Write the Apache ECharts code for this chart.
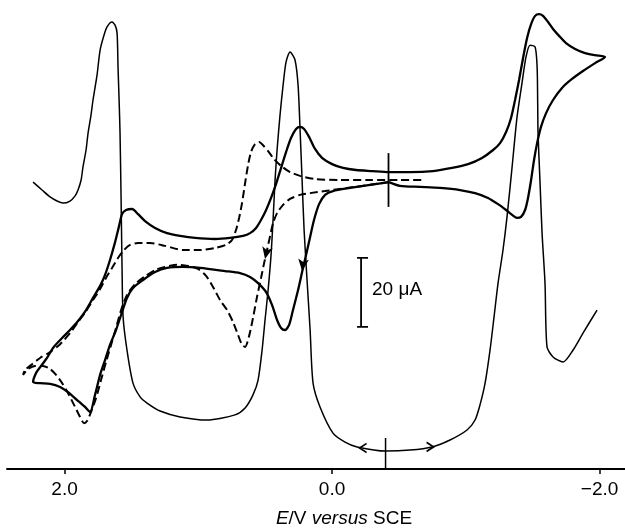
<!DOCTYPE html>
<html><head><meta charset="utf-8">
<script src="https://cdn.jsdelivr.net/npm/echarts@6/dist/echarts.min.js"></script>
<style>html,body{margin:0;padding:0;background:#fff}#c{width:625px;height:529px}</style>
</head><body><div id="c"></div>
<script>
// x: potential E / V versus SCE ; y: current / µA (arbitrary zero)
const tickValues = [2, 0, -2];
const tickLabels = ['2.0', '0.0', '\u22122.0'];

const thinCurve = [
[2.235,-0.6],[2.168,-2.9],[2.108,-4.9],[2.056,-6.1],[2.011,-6.7],[1.959,-6.1],[1.921,-4.6],[1.899,-2.9],[1.876,0],[1.862,3.8],[1.839,8.7],[1.824,13.6],[1.802,18.8],[1.787,23.2],[1.757,30.4],[1.734,37.7],[1.705,42.0],[1.682,44.4],[1.645,45.8],[1.622,44.9],[1.607,42.6],[1.600,32.8],[1.592,23.2],[1.585,13.6],[1.577,-5.8],[1.570,-25.2],[1.562,-39.7],[1.533,-49.3],[1.488,-58.9],[1.435,-62.9],[1.383,-64.7],[1.286,-67.0],[1.136,-68.7],[0.935,-69.6],[0.725,-68.1],[0.650,-66.1],[0.591,-62.3],[0.553,-58.0],[0.523,-49.3],[0.501,-40.6],[0.478,-31.9],[0.456,-21.7],[0.441,-11.6],[0.426,0],[0.411,8.7],[0.389,18.8],[0.366,27.5],[0.344,34.2],[0.314,37.1],[0.277,34.8],[0.254,27.5],[0.239,14.5],[0.224,0],[0.209,-14.5],[0.187,-29.0],[0.164,-43.5],[0.142,-58.9],[0.090,-65.8],[-0.007,-73.4],[-0.097,-76.0],[-0.187,-77.4],[-0.404,-78.6],[-0.583,-78.3],[-0.748,-77.4],[-0.882,-75.4],[-1.009,-72.5],[-1.069,-69.6],[-1.106,-65.2],[-1.144,-58.9],[-1.181,-49.3],[-1.211,-39.7],[-1.241,-29.9],[-1.278,-20.3],[-1.308,-10.7],[-1.346,3.8],[-1.383,18.3],[-1.420,28.1],[-1.450,35.7],[-1.480,39.1],[-1.518,38.6],[-1.533,32.8],[-1.537,23.2],[-1.540,13.6],[-1.555,-0.9],[-1.570,-15.4],[-1.592,-29.9],[-1.607,-48.4],[-1.652,-51.3],[-1.727,-52.8],[-1.802,-49.3],[-1.876,-44.4],[-1.981,-37.7]
];

const solidCurve = [
[-0.426,-0.6],[-0.284,-1.4],[-0.135,-2.3],[-0.007,-3.2],[0.052,-4.3],[0.097,-7.0],[0.135,-11.6],[0.164,-16.5],[0.194,-21.7],[0.224,-26.7],[0.254,-31.9],[0.292,-37.7],[0.321,-42.0],[0.351,-43.5],[0.381,-42.9],[0.411,-40.6],[0.449,-36.2],[0.493,-32.5],[0.553,-29.9],[0.613,-28.1],[0.688,-27.0],[0.800,-26.4],[0.987,-25.5],[1.114,-25.2],[1.234,-25.5],[1.323,-26.7],[1.413,-29.0],[1.488,-31.3],[1.533,-34.2],[1.570,-38.3],[1.615,-43.5],[1.660,-47.8],[1.697,-52.2],[1.734,-56.5],[1.772,-62.3],[1.809,-67.3],[1.847,-65.8],[1.906,-63.8],[1.974,-61.5],[2.033,-60.0],[2.108,-59.1],[2.183,-58.9],[2.235,-58.6],[2.213,-56.0],[2.175,-53.9],[2.131,-51.6],[2.086,-48.7],[2.018,-45.8],[1.959,-43.5],[1.899,-40.9],[1.839,-37.7],[1.787,-34.2],[1.734,-30.7],[1.697,-27.5],[1.660,-23.2],[1.622,-18.0],[1.592,-13.3],[1.570,-9.9],[1.540,-8.7],[1.495,-8.4],[1.450,-9.9],[1.398,-11.9],[1.323,-13.9],[1.234,-15.4],[1.136,-16.2],[1.024,-16.8],[0.875,-17.1],[0.763,-16.8],[0.665,-16.2],[0.613,-15.4],[0.568,-13.9],[0.531,-11.6],[0.493,-8.7],[0.456,-5.2],[0.419,-1.2],[0.381,3.5],[0.344,8.1],[0.307,12.2],[0.269,14.8],[0.239,15.4],[0.209,14.8],[0.172,12.5],[0.127,9.0],[0.075,6.4],[0,4.6],[-0.082,3.5],[-0.179,2.9],[-0.299,2.6],[-0.426,2.3],[-0.583,2.3],[-0.755,2.6],[-0.897,3.5],[-1.017,4.6],[-1.121,6.4],[-1.204,8.7],[-1.256,10.7],[-1.301,13.9],[-1.338,18.0],[-1.368,23.2],[-1.398,29.0],[-1.428,35.4],[-1.458,41.2],[-1.488,45.2],[-1.518,47.6],[-1.548,48.1],[-1.577,47.6],[-1.615,45.8],[-1.652,43.8],[-1.697,41.8],[-1.749,39.7],[-1.817,38.0],[-1.891,36.8],[-1.966,36.2],[-2.041,35.7],[-1.966,33.9],[-1.876,31.6],[-1.794,29.3],[-1.719,26.7],[-1.652,23.2],[-1.600,19.4],[-1.562,15.4],[-1.533,10.7],[-1.510,5.8],[-1.488,0],[-1.465,-5.2],[-1.443,-8.7],[-1.413,-10.7],[-1.383,-11.0],[-1.346,-10.1],[-1.301,-8.7],[-1.241,-7.0],[-1.166,-5.2],[-1.069,-3.8],[-0.957,-2.9],[-0.807,-2.3],[-0.658,-2.0],[-0.508,-1.7],[-0.426,-0.6]
];

const dashedCurve = [
[-0.426,-0.6],[-0.284,-1.4],[-0.112,-2.3],[0.052,-3.2],[0.164,-3.8],[0.239,-4.3],[0.314,-5.5],[0.366,-7.2],[0.411,-9.6],[0.441,-12.5],[0.463,-16.2],[0.486,-20.3],[0.508,-24.1],[0.531,-28.4],[0.561,-33.9],[0.591,-40.0],[0.620,-45.2],[0.650,-48.4],[0.673,-47.8],[0.703,-44.9],[0.740,-41.2],[0.785,-37.7],[0.837,-34.8],[0.890,-31.0],[0.942,-27.8],[1.002,-25.8],[1.077,-24.9],[1.159,-24.6],[1.248,-25.2],[1.323,-26.1],[1.405,-28.1],[1.473,-30.2],[1.533,-33.3],[1.577,-37.7],[1.615,-42.9],[1.652,-47.8],[1.690,-52.8],[1.727,-58.0],[1.764,-63.2],[1.802,-67.3],[1.832,-69.9],[1.854,-70.5],[1.884,-68.7],[1.929,-65.2],[1.974,-61.8],[2.018,-58.9],[2.063,-56.5],[2.108,-54.8],[2.161,-53.9],[2.220,-53.9],[2.273,-54.8],[2.310,-56.5],[2.295,-55.1],[2.243,-53.4],[2.183,-51.6],[2.108,-49.9],[2.033,-47.6],[1.959,-44.4],[1.899,-41.2],[1.839,-38.0],[1.787,-34.8],[1.734,-31.6],[1.690,-28.4],[1.645,-25.5],[1.600,-22.6],[1.555,-20.3],[1.510,-18.8],[1.450,-18.3],[1.361,-18.3],[1.248,-19.1],[1.114,-20.3],[0.987,-20.3],[0.875,-19.7],[0.792,-18.8],[0.748,-17.4],[0.718,-14.5],[0.695,-11.0],[0.673,-6.7],[0.650,-0.9],[0.628,4.3],[0.606,8.1],[0.576,10.4],[0.546,11.0],[0.516,10.1],[0.478,8.4],[0.434,6.1],[0.381,4.1],[0.314,2.3],[0.239,1.2],[0.127,0.3],[-0.060,0],[-0.284,0],[-0.508,0],[-0.680,0]
];

const startMarker = [[-0.422, 7.8], [-0.422, -7.8]];
const bottomMarker = [[-0.400, -74.8], [-0.400, -83.8]];
const scaleBar = [[-0.187,-22.6],[-0.269,-22.6],[-0.217,-22.6],[-0.217,-42.6],[-0.269,-42.6],[-0.187,-42.6]];
const scaleLabelAt = [[-0.299, -31.9]];
const scaleLabel = '20 \u03bcA';
const dirArrows = [[0.501, -22.9], [0.224, -26.4]];
const dirAngles = [168, 173];
const scanArrowLeft = [[-0.232, -77.7]];
const scanArrowRight = [[-0.733, -77.4]];

const FONT = 'Liberation Sans, Arial, Helvetica, sans-serif';
const chart = echarts.init(document.getElementById('c'), null, {renderer: 'canvas'});
const lineBase = {type: 'line', symbol: 'none', silent: true, smooth: 0.25, animation: false};
chart.setOption({
  animation: false,
  backgroundColor: '#fff',
  grid: {left: 7, right: 0, top: 0, bottom: 60},
  xAxis: {
    type: 'value', inverse: true, min: -2.19, max: 2.43,
    splitLine: {show: false},
    axisLine: {onZero: false, lineStyle: {color: '#000', width: 2}},
    axisTick: {customValues: tickValues, length: 5, lineStyle: {color: '#000', width: 1.5}},
    axisLabel: {customValues: tickValues, margin: 11, color: '#000', fontSize: 19, fontFamily: FONT,
      formatter: v => tickLabels[tickValues.indexOf(v)] || ''}
  },
  yAxis: {type: 'value', min: -83.8, max: 52.2, show: false},
  graphic: [{
    type: 'text', x: 344, y: 519,
    style: {text: '{i|E}/V {i|versus} SCE', fill: '#000', fontSize: 19, fontFamily: FONT,
      align: 'center', verticalAlign: 'middle',
      rich: {i: {fontStyle: 'italic', fontSize: 19, fontFamily: FONT, fill: '#000'}}}
  }],
  series: [
    Object.assign({}, lineBase, {data: thinCurve, lineStyle: {color: '#000', width: 1.5}}),
    Object.assign({}, lineBase, {data: solidCurve, lineStyle: {color: '#000', width: 2.3}}),
    Object.assign({}, lineBase, {data: dashedCurve, lineStyle: {color: '#000', width: 2, type: [8, 4]}}),
    Object.assign({}, lineBase, {smooth: false, data: startMarker, lineStyle: {color: '#000', width: 1.8}}),
    Object.assign({}, lineBase, {smooth: false, data: bottomMarker, lineStyle: {color: '#000', width: 1.5}}),
    Object.assign({}, lineBase, {smooth: false, data: scaleBar, lineStyle: {color: '#000', width: 1.8}}),
    {type: 'scatter', silent: true, data: scaleLabelAt, symbolSize: 0, itemStyle: {opacity: 1},
      label: {show: true, position: 'right', distance: 0, formatter: scaleLabel, color: '#000', opacity: 1, fontSize: 19, fontFamily: FONT}},
    {type: 'scatter', silent: true, data: dirArrows, symbol: 'arrow', symbolSize: [8, 12],
      symbolRotate: (v, p) => dirAngles[p.dataIndex], itemStyle: {color: '#000', opacity: 1}},
    {type: 'scatter', silent: true, data: scanArrowLeft, symbol: 'path://M8,0 L0,5 L8,10', symbolSize: [7, 9],
      itemStyle: {color: 'none', borderColor: '#000', borderWidth: 1.6, opacity: 1}},
    {type: 'scatter', silent: true, data: scanArrowRight, symbol: 'path://M0,0 L8,5 L0,10', symbolSize: [7, 9],
      itemStyle: {color: 'none', borderColor: '#000', borderWidth: 1.6, opacity: 1}}
  ]
});
</script></body></html>
